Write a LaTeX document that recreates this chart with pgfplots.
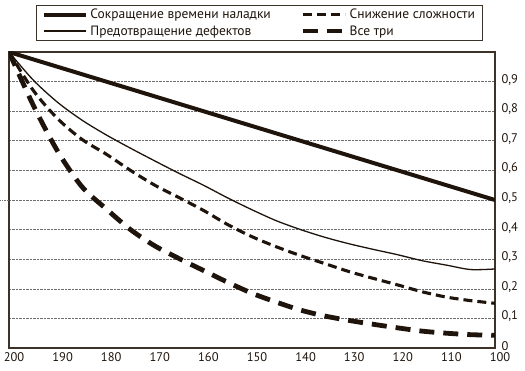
\documentclass[border=0pt]{standalone}
\usepackage{pgfplots}
\pgfplotsset{compat=1.18}
\usepackage{fontspec}
\setmainfont{PT Sans}
\definecolor{ink}{RGB}{30,20,12}
\definecolor{frame}{RGB}{60,50,40}
\definecolor{gridc}{RGB}{110,110,110}
\begin{document}
\begin{tikzpicture}
\begin{axis}[
  scale only axis,
  width=486pt, height=296pt,
  x dir=reverse,
  xmin=100, xmax=200, ymin=0, ymax=1,
  xtick={100,110,...,200},
  ytick={0,0.1,...,0.9},
  yticklabel pos=right,
  yticklabel style={anchor=west, xshift=3pt, yshift=2pt},
  xticklabel style={xshift=5pt, yshift=-1pt},
  major tick length=0pt,
  /pgf/number format/assume math mode=true,
  /pgf/number format/use comma,
  ticklabel style={font=\fontsize{12.5}{14}\selectfont, text=ink},
  axis line style={frame, line width=1.1pt},
  ymajorgrids,
  grid style={gridc, densely dotted, line width=0.6pt},
  legend columns=2,
  legend cell align=left,
  legend style={at={(0.0556,1.159)}, anchor=north west, draw=frame, line width=0.9pt,
    font=\fontsize{13.5}{15}\selectfont, text=ink, inner xsep=6pt, inner ysep=2pt,
    row sep=1pt},
  legend image code/.code={\draw[#1] (0pt,0pt) -- (42pt,0pt);},
  /tikz/every even column/.append style={column sep=28pt},
]
\addplot[ink, line width=4pt, line cap=butt] coordinates {
(200,1.0) (175,0.875) (150,0.75) (125,0.625) (100,0.5)};
\addlegendentry{Сокращение времени наладки}
\addplot[ink, line width=3.1pt, dash pattern=on 9pt off 5pt, smooth] coordinates {
(200,1.0) (195,0.87) (190,0.775) (185,0.705) (180,0.655) (175,0.6) (170,0.55)
(165,0.508) (160,0.465) (155,0.417) (150,0.376) (145,0.342) (140,0.312)
(135,0.285) (130,0.258) (125,0.235) (120,0.213) (115,0.19) (110,0.172)
(105,0.16) (100,0.151)};
\addlegendentry{Снижение сложности}
\addplot[ink, line width=1.3pt, smooth] coordinates {
(200,1.0) (195,0.905) (190,0.83) (185,0.77) (180,0.72) (175,0.675) (170,0.632)
(165,0.59) (160,0.55) (155,0.507) (150,0.467) (145,0.43) (140,0.40)
(135,0.374) (130,0.352) (125,0.333) (120,0.315) (115,0.295) (110,0.28)
(105,0.265) (100,0.267)};
\addlegendentry{Предотвращение дефектов}
\addplot[ink, line width=4.8pt, dash pattern=on 15pt off 9pt, smooth] coordinates {
(200,1.0) (195,0.82) (190,0.665) (185,0.545) (180,0.47) (175,0.4) (170,0.345)
(165,0.302) (160,0.262) (155,0.222) (150,0.185) (145,0.155) (140,0.128)
(135,0.108) (130,0.093) (125,0.08) (120,0.068) (115,0.057) (110,0.05)
(105,0.045) (100,0.043)};
\addlegendentry{Все три}
\end{axis}
\draw[gridc, densely dotted, line width=0.6pt] (current axis.west) -- ++(-9pt,0);
\pgfresetboundingbox
\path[use as bounding box] (current axis.south west) ++(-9pt,-22pt) rectangle ++(525pt,370pt);
\end{tikzpicture}
\end{document}
